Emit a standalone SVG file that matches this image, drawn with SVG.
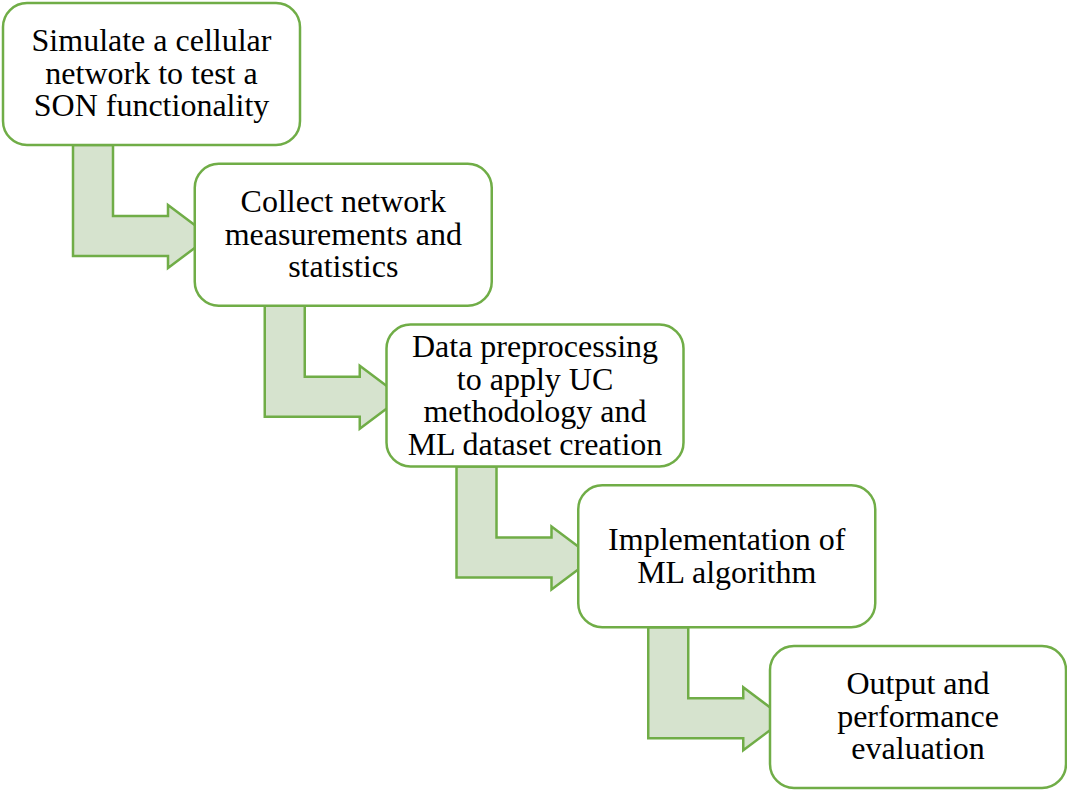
<svg xmlns="http://www.w3.org/2000/svg" width="1067" height="790" viewBox="0 0 1067 790">
  <style>
    .box { fill: #ffffff; stroke: #70AD47; stroke-width: 2.5; }
    .arrow { fill: #D6E3CE; stroke: #70AD47; stroke-width: 2.5; stroke-linejoin: miter; }
    .label { font-family: "Liberation Serif", "Times New Roman", serif; font-size: 32px; fill: #000000; text-anchor: middle; }
  </style>
  <rect width="1067" height="790" fill="#ffffff"/>

  <!-- bent arrows linking each step to the next; tips run under the next box -->
  <g id="connectors">
    <path class="arrow" d="M73,145 V256 H168 V268 L210,236.5 L168,205 V216 H113 V145 Z"/>
    <path class="arrow" d="M264.75,305.75 V416.75 H359.75 V428.75 L401.75,397.25 L359.75,365.75 V376.75 H304.75 V305.75 Z"/>
    <path class="arrow" d="M456.5,466.5 V577.5 H551.5 V589.5 L593.5,558 L551.5,526.5 V537.5 H496.5 V466.5 Z"/>
    <path class="arrow" d="M648.25,627.25 V738.25 H743.25 V750.25 L785.25,718.75 L743.25,687.25 V698.25 H688.25 V627.25 Z"/>
  </g>

  <g id="node-simulate">
    <rect class="box" x="3" y="3" width="297" height="142" rx="24"/>
    <text class="label" x="151.5" y="51">Simulate a cellular</text>
    <text class="label" x="151.5" y="83.5">network to test a</text>
    <text class="label" x="151.5" y="116">SON functionality</text>
  </g>

  <g id="node-collect">
    <rect class="box" x="194.75" y="163.75" width="297" height="142" rx="24"/>
    <text class="label" x="343.25" y="212">Collect network</text>
    <text class="label" x="343.25" y="244.5">measurements and</text>
    <text class="label" x="343.25" y="277">statistics</text>
  </g>

  <g id="node-preprocess">
    <rect class="box" x="386.5" y="324.5" width="297" height="142" rx="24"/>
    <text class="label" x="535" y="357">Data preprocessing</text>
    <text class="label" x="535" y="389.5">to apply UC</text>
    <text class="label" x="535" y="422">methodology and</text>
    <text class="label" x="535" y="454.5">ML dataset creation</text>
  </g>

  <g id="node-implement">
    <rect class="box" x="578.25" y="485.25" width="297" height="142" rx="24"/>
    <text class="label" x="726.75" y="550">Implementation of</text>
    <text class="label" x="726.75" y="582.5">ML algorithm</text>
  </g>

  <g id="node-output">
    <rect class="box" x="770" y="646" width="296" height="142" rx="24"/>
    <text class="label" x="918" y="694">Output and</text>
    <text class="label" x="918" y="726.5">performance</text>
    <text class="label" x="918" y="759">evaluation</text>
  </g>
</svg>
